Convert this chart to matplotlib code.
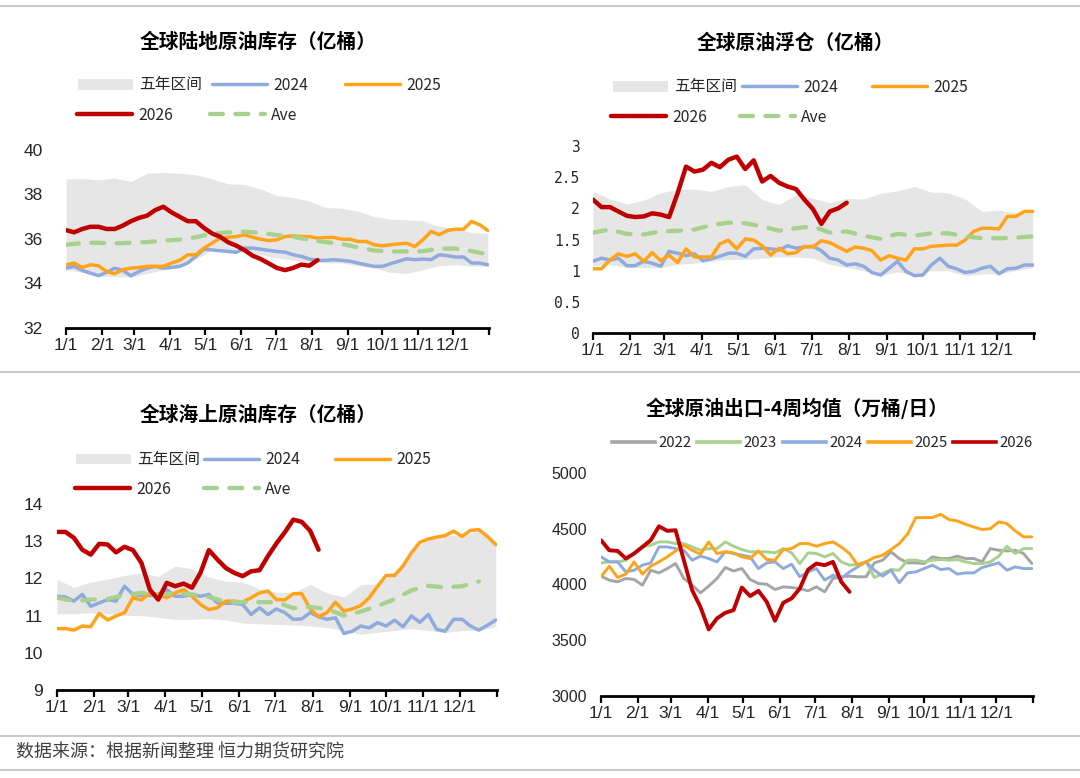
import numpy as np
import matplotlib
matplotlib.use("Agg")
import matplotlib.pyplot as plt
from matplotlib.lines import Line2D
from matplotlib.patches import Patch

# ---------------- data ----------------
month_ticks = [0, 31, 59, 90, 120, 151, 181, 212, 243, 273, 304, 334, 365]
month_labels = ['1/1', '2/1', '3/1', '4/1', '5/1', '6/1', '7/1', '8/1',
                '9/1', '10/1', '11/1', '12/1', '']

# Panel 1: global onshore crude inventory (100m bbl), weekly / biweekly
land_hi = [38.70, 38.72, 38.66, 38.74, 38.58, 38.95, 38.99, 38.95, 38.89, 38.70,
           38.48, 38.45, 38.25, 37.95, 37.87, 37.70, 37.42, 37.38, 37.25, 37.00,
           36.90, 36.86, 36.82, 36.56, 36.50, 36.28, 36.26]
land_lo = [34.62, 34.50, 34.33, 34.30, 34.29, 34.45, 34.62, 34.80, 35.10, 35.50,
           35.50, 35.42, 35.30, 35.15, 35.05, 34.95, 34.93, 34.92, 34.80, 34.70,
           34.50, 34.45, 34.62, 34.80, 34.84, 34.78, 34.77]
land_2024 = [34.69, 34.77, 34.59, 34.47, 34.35, 34.50, 34.69, 34.59, 34.35, 34.54,
             34.69, 34.77, 34.69, 34.72, 34.77, 34.92, 35.22, 35.54, 35.51, 35.47,
             35.44, 35.40, 35.59, 35.59, 35.54, 35.49, 35.44, 35.41, 35.29, 35.22,
             35.10, 35.04, 35.04, 35.07, 35.04, 35.00, 34.92, 34.84, 34.77, 34.77,
             34.89, 35.00, 35.11, 35.07, 35.10, 35.07, 35.29, 35.25, 35.19, 35.19,
             34.92, 34.92, 34.84]
land_2025 = [34.84, 34.92, 34.72, 34.84, 34.80, 34.54, 34.44, 34.62, 34.69, 34.72,
             34.77, 34.77, 34.77, 34.92, 35.04, 35.29, 35.29, 35.59, 35.81, 36.04,
             36.08, 36.11, 36.19, 36.08, 35.99, 35.93, 35.96, 36.11, 36.14, 36.11,
             36.11, 36.04, 36.07, 36.07, 35.99, 35.99, 35.89, 35.89, 35.74, 35.69,
             35.74, 35.78, 35.81, 35.66, 35.96, 36.34, 36.19, 36.38, 36.44, 36.44,
             36.79, 36.64, 36.38]
land_2026 = [36.40, 36.30, 36.45, 36.55, 36.55, 36.45, 36.45, 36.60, 36.80, 36.95,
             37.05, 37.30, 37.45, 37.20, 37.00, 36.80, 36.80, 36.50, 36.25, 36.10,
             35.85, 35.70, 35.50, 35.25, 35.10, 34.90, 34.70, 34.60, 34.70, 34.85,
             34.80, 35.05]
land_ave = [35.74, 35.82, 35.83, 35.80, 35.83, 35.86, 35.93, 35.97, 36.08, 36.24,
            36.30, 36.33, 36.28, 36.18, 36.10, 35.96, 35.86, 35.78, 35.62, 35.48,
            35.44, 35.44, 35.45, 35.57, 35.57, 35.46, 35.30]

# Panel 2: global floating storage (100m bbl)
float_hi = [2.27, 2.15, 2.07, 2.13, 2.25, 2.30, 2.31, 2.27, 2.35, 2.38,
            2.14, 2.06, 2.22, 2.16, 2.09, 2.16, 2.15, 2.24, 2.28, 2.35,
            2.26, 2.25, 2.15, 1.95, 1.97, 1.93, 1.92]
float_lo = [1.08, 1.10, 1.05, 1.05, 1.05, 1.10, 1.12, 1.15, 1.18, 1.18,
            1.20, 1.22, 1.22, 1.20, 1.10, 1.05, 1.00, 0.92, 0.98, 0.92,
            1.00, 1.00, 0.92, 0.95, 0.95, 1.00, 1.05]
float_2024 = [1.15, 1.20, 1.17, 1.20, 1.08, 1.08, 1.15, 1.12, 1.07, 1.31,
              1.28, 1.24, 1.27, 1.16, 1.19, 1.23, 1.28, 1.28, 1.23, 1.35,
              1.36, 1.35, 1.33, 1.40, 1.36, 1.38, 1.39, 1.32, 1.20, 1.17,
              1.09, 1.11, 1.07, 0.97, 0.93, 1.04, 1.15, 0.99, 0.92, 0.93,
              1.09, 1.20, 1.07, 1.03, 0.97, 0.99, 1.04, 1.07, 0.95, 1.03,
              1.04, 1.09, 1.09]
float_2025 = [1.03, 1.03, 1.17, 1.27, 1.23, 1.27, 1.15, 1.29, 1.16, 1.25,
              1.13, 1.35, 1.22, 1.22, 1.22, 1.43, 1.49, 1.35, 1.51, 1.49,
              1.40, 1.25, 1.36, 1.27, 1.29, 1.39, 1.38, 1.48, 1.45, 1.38,
              1.31, 1.38, 1.36, 1.32, 1.17, 1.24, 1.20, 1.17, 1.35, 1.35,
              1.39, 1.40, 1.41, 1.41, 1.49, 1.63, 1.68, 1.68, 1.67, 1.87,
              1.87, 1.95, 1.95]
float_2026 = [2.14, 2.02, 2.02, 1.95, 1.88, 1.86, 1.87, 1.92, 1.90, 1.86,
              2.24, 2.67, 2.59, 2.62, 2.73, 2.66, 2.78, 2.83, 2.63, 2.77,
              2.43, 2.52, 2.41, 2.35, 2.31, 2.14, 1.99, 1.75, 1.95, 2.00,
              2.09]
float_ave = [1.61, 1.66, 1.59, 1.58, 1.63, 1.64, 1.66, 1.73, 1.77, 1.76,
             1.71, 1.64, 1.68, 1.71, 1.61, 1.63, 1.56, 1.51, 1.59, 1.56,
             1.60, 1.60, 1.55, 1.52, 1.52, 1.53, 1.55]

# Panel 3: global crude on water (100m bbl)
sea_hi = [11.97, 11.76, 11.90, 11.98, 12.08, 12.15, 12.05, 12.33, 12.26, 12.03,
          11.92, 11.90, 11.72, 11.63, 11.61, 11.84, 11.61, 11.50, 11.83, 11.85,
          12.15, 12.75, 13.05, 13.15, 13.15, 13.27, 12.92]
sea_lo = [11.05, 11.05, 11.08, 11.05, 11.00, 11.00, 10.95, 10.90, 10.90, 10.92,
          10.88, 10.80, 10.78, 10.76, 10.75, 10.72, 10.68, 10.60, 10.50, 10.55,
          10.60, 10.65, 10.60, 10.55, 10.60, 10.60, 10.70]
sea_2024 = [11.52, 11.50, 11.39, 11.57, 11.25, 11.34, 11.43, 11.39, 11.79, 11.57,
            11.54, 11.54, 11.57, 11.70, 11.52, 11.52, 11.57, 11.52, 11.57, 11.34,
            11.33, 11.33, 11.30, 11.03, 11.21, 11.03, 11.18, 11.08, 10.90, 10.91,
            11.08, 10.97, 10.90, 10.94, 10.52, 10.58, 10.72, 10.67, 10.81, 10.72,
            10.88, 10.70, 10.99, 10.82, 11.03, 10.63, 10.58, 10.90, 10.90, 10.72,
            10.61, 10.74, 10.88]
sea_2025 = [10.65, 10.65, 10.61, 10.72, 10.70, 11.06, 10.88, 10.99, 11.08, 11.48,
            11.42, 11.61, 11.57, 11.48, 11.61, 11.70, 11.52, 11.30, 11.16, 11.21,
            11.39, 11.39, 11.36, 11.48, 11.61, 11.66, 11.43, 11.42, 11.59, 11.59,
            11.18, 10.97, 11.08, 11.36, 11.12, 11.18, 11.27, 11.48, 11.79, 12.08,
            12.08, 12.33, 12.69, 12.97, 13.06, 13.11, 13.15, 13.27, 13.13, 13.29,
            13.31, 13.13, 12.91]
sea_2026 = [13.25, 13.25, 13.09, 12.77, 12.64, 12.93, 12.91, 12.70, 12.85, 12.76,
            12.42, 11.70, 11.43, 11.88, 11.79, 11.86, 11.75, 12.15, 12.76, 12.51,
            12.28, 12.15, 12.06, 12.19, 12.22, 12.60, 12.94, 13.24, 13.58, 13.52,
            13.28, 12.77]
sea_ave = [11.48, 11.39, 11.43, 11.45, 11.55, 11.61, 11.56, 11.60, 11.57, 11.50,
           11.37, 11.36, 11.36, 11.36, 11.20, 11.23, 11.18, 11.00, 11.11, 11.26,
           11.44, 11.68, 11.80, 11.76, 11.79, 11.92]

# Panel 4: global crude exports, 4-week average (10k bbl/day)
exp_2022 = [4075, 4039, 4024, 4054, 4045, 3994, 4128, 4104, 4143, 4188,
            4054, 3994, 3925, 3985, 4054, 4152, 4122, 4143, 4045, 4009,
            4003, 3955, 3979, 3973, 3964, 3943, 3979, 3934, 4054, 4069,
            4075, 4069, 4069, 4194, 4218, 4293, 4233, 4194, 4194, 4188,
            4248, 4233, 4233, 4254, 4233, 4233, 4203, 4322, 4307, 4301,
            4307, 4278, 4188]
exp_2023 = [4194, 4203, 4203, 4218, 4278, 4337, 4352, 4382, 4382, 4367,
            4367, 4337, 4307, 4322, 4322, 4382, 4343, 4313, 4293, 4293,
            4293, 4284, 4322, 4284, 4188, 4284, 4278, 4248, 4278, 4203,
            4173, 4182, 4203, 4063, 4099, 4134, 4128, 4218, 4218, 4203,
            4218, 4224, 4218, 4224, 4203, 4188, 4188, 4203, 4254, 4343,
            4278, 4322, 4322]
exp_2024 = [4248, 4203, 4203, 4113, 4128, 4173, 4194, 4337, 4337, 4322,
            4307, 4218, 4254, 4233, 4203, 4293, 4278, 4263, 4248, 4143,
            4194, 4203, 4143, 4182, 4069, 4113, 4143, 4039, 4084, 4054,
            4113, 4158, 4203, 4128, 4075, 4128, 4015, 4104, 4113, 4143,
            4173, 4134, 4143, 4093, 4104, 4104, 4152, 4173, 4194, 4128,
            4158, 4143, 4143]
exp_2025 = [4069, 4164, 4063, 4093, 4203, 4093, 4164, 4203, 4248, 4301,
            4352, 4307, 4272, 4382, 4278, 4293, 4284, 4248, 4233, 4301,
            4224, 4218, 4313, 4322, 4367, 4367, 4343, 4367, 4382, 4337,
            4278, 4173, 4203, 4242, 4263, 4313, 4367, 4451, 4600, 4600,
            4600, 4630, 4582, 4570, 4540, 4516, 4493, 4501, 4561, 4546,
            4481, 4427, 4427]
exp_2026 = [4397, 4307, 4301, 4233, 4278, 4337, 4397, 4522, 4481, 4487,
            4218, 3949, 3800, 3597, 3696, 3746, 3770, 3973, 3896, 3943,
            3845, 3675, 3836, 3875, 3964, 4134, 4188, 4173, 4203, 4024,
            3934]

titles = ['全球陆地原油库存（亿桶）', '全球原油浮仓（亿桶）',
          '全球海上原油库存（亿桶）', '全球原油出口-4周均值（万桶/日）']
source_text = '数据来源：根据新闻整理 恒力期货研究院'

# ---------------- style ----------------
W, H = 1080, 778
plt.rcParams['font.family'] = ['Noto Sans CJK SC', 'DejaVu Sans']
NARROW = ['Liberation Sans Narrow', 'Liberation Sans', 'DejaVu Sans']
C_BAND = '#E7E6E6'
C_BLUE = '#8FAADC'
C_ORANGE = '#FFA31A'
C_RED = '#C00000'
C_GREEN = '#A9D18E'
C_GRAY = '#A5A5A5'
TXT = '#262626'

fig = plt.figure(figsize=(W / 100, H / 100), dpi=100)
fig.patch.set_facecolor('white')


def fx(x):
    return x / W


def fy(y):
    return 1 - y / H


def weekly(vals):
    return np.arange(len(vals)) * 7


def biweekly(vals):
    return np.arange(len(vals)) * 14


def make_ax(l, r, t, b):
    return fig.add_axes([l / W, 1 - b / H, (r - l) / W, (b - t) / H])


def style_ax(ax, ylim, yticks, ylabels, ypad, yfamily, ysize):
    ax.set_xlim(0, 365)
    ax.set_ylim(*ylim)
    for s in ['left', 'right', 'top']:
        ax.spines[s].set_visible(False)
    ax.spines['bottom'].set_linewidth(2.0)
    ax.spines['bottom'].set_color('black')
    ax.set_xticks(month_ticks)
    ax.set_xticklabels(month_labels, fontfamily=NARROW, fontsize=12.5, color=TXT)
    ax.tick_params(axis='x', direction='out', length=5, width=1.6, pad=2.5,
                   color='black')
    ax.set_yticks(yticks)
    ax.set_yticklabels(ylabels, fontfamily=yfamily, fontsize=ysize, color=TXT)
    ax.tick_params(axis='y', length=0, pad=ypad)
    ax.patch.set_alpha(0)


def legend_entry(handle, label, x0, y, hlen_px, fs=11, gap_px=6):
    fpx = fs * 100 / 72
    fig.legend(handles=[handle], labels=[label], loc='center left',
               bbox_to_anchor=(fx(x0), fy(y)), bbox_transform=fig.transFigure,
               frameon=False, fontsize=fs, borderpad=0, borderaxespad=0,
               handlelength=hlen_px / fpx, handletextpad=gap_px / fpx,
               labelcolor=TXT)


def dashed_kw(lw):
    return dict(color=C_GREEN, lw=lw, dashes=(3.0, 2.9), dash_capstyle='round')


solid = dict(solid_capstyle='round', solid_joinstyle='round')


def season_panel(ax, lo, hi, s24, s25, s26, ave):
    band = ax.fill_between(biweekly(lo), lo, hi, color=C_BAND, lw=0, zorder=1)
    l24, = ax.plot(weekly(s24), s24, color=C_BLUE, lw=2.5, zorder=2, **solid)
    l25, = ax.plot(weekly(s25), s25, color=C_ORANGE, lw=2.5, zorder=3, **solid)
    la, = ax.plot(biweekly(ave), ave, zorder=4, **dashed_kw(3.1))
    l26, = ax.plot(weekly(s26), s26, color=C_RED, lw=3.2, zorder=5, **solid)
    return band, l24, l25, l26, la


def season_legend(handles, xs, ys):
    band, l24, l25, l26, la = handles
    patch = Patch(facecolor=C_BAND, edgecolor='none')
    labs = ['五年区间', '2024', '2025', '2026', 'Ave']
    hs = [patch, l24, l25, l26, la]
    for h, lab, x0, y in zip(hs, labs, xs, ys):
        legend_entry(h, lab, x0, y, 55, fs=11.3)


# ---- Panel 1 ----
ax1 = make_ax(66, 489, 150, 328)
h1 = season_panel(ax1, land_lo, land_hi, land_2024, land_2025, land_2026, land_ave)
style_ax(ax1, (32, 40), [32, 34, 36, 38, 40], ['32', '34', '36', '38', '40'],
         16.5, NARROW, 12.5)
season_legend(h1, [78, 212, 345, 77, 210], [85, 85, 85, 115, 115])
fig.text(fx(258), fy(42), titles[0], ha='center', va='center', fontsize=14.2,
         fontweight='bold', color='black')

# ---- Panel 2 ----
ax2 = make_ax(593, 1034, 146, 333)
h2 = season_panel(ax2, float_lo, float_hi, float_2024, float_2025, float_2026, float_ave)
style_ax(ax2, (0, 3), [0, 0.5, 1, 1.5, 2, 2.5, 3],
         ['0', '0.5', '1', '1.5', '2', '2.5', '3'], 9.4, ['DejaVu Sans Mono'], 10.5)
season_legend(h2, [613, 742, 872, 611, 740], [87, 87, 87, 117, 117])
fig.text(fx(795), fy(43), titles[1], ha='center', va='center', fontsize=14.2,
         fontweight='bold', color='black')

# ---- Panel 3 ----
ax3 = make_ax(57, 497, 504, 690)
h3 = season_panel(ax3, sea_lo, sea_hi, sea_2024, sea_2025, sea_2026, sea_ave)
style_ax(ax3, (9, 14), [9, 10, 11, 12, 13, 14], ['9', '10', '11', '12', '13', '14'],
         10, NARROW, 12.5)
season_legend(h3, [76, 204, 335, 75, 204], [460, 460, 460, 489, 489])
fig.text(fx(258), fy(415), titles[2], ha='center', va='center', fontsize=14.2,
         fontweight='bold', color='black')

# ---- Panel 4 ----
ax4 = make_ax(601, 1033, 473, 696)
e22, = ax4.plot(weekly(exp_2022), exp_2022, color=C_GRAY, lw=2.1, zorder=2, **solid)
e23, = ax4.plot(weekly(exp_2023), exp_2023, color=C_GREEN, lw=2.1, zorder=3, **solid)
e24, = ax4.plot(weekly(exp_2024), exp_2024, color=C_BLUE, lw=2.1, zorder=4, **solid)
e25, = ax4.plot(weekly(exp_2025), exp_2025, color=C_ORANGE, lw=2.1, zorder=5, **solid)
e26, = ax4.plot(weekly(exp_2026), exp_2026, color=C_RED, lw=2.8, zorder=6, **solid)
style_ax(ax4, (3000, 5000), [3000, 3500, 4000, 4500, 5000],
         ['3000', '3500', '4000', '4500', '5000'], 10, ['Liberation Sans', 'DejaVu Sans'], 11.5)
for h, lab, x0 in zip([e22, e23, e24, e25, e26], ['2022', '2023', '2024', '2025', '2026'],
                      [612, 697, 783, 868, 953]):
    hh = Line2D([], [], color=h.get_color(), lw=2.6)
    legend_entry(hh, lab, x0, 443, 43, fs=10.8, gap_px=3)
fig.text(fx(797), fy(408), titles[3], ha='center', va='center', fontsize=14.2,
         fontweight='bold', color='black')

# ---- separators & footer ----
for yy in [6, 372, 736, 770]:
    fig.add_artist(Line2D([0, 1], [fy(yy), fy(yy)], transform=fig.transFigure,
                          color='#C8C8C8', lw=1.4))
fig.text(fx(16), fy(752), source_text, ha='left', va='center', fontsize=13,
         color='#404040')

fig.savefig('out.png', dpi=100, facecolor='white')
